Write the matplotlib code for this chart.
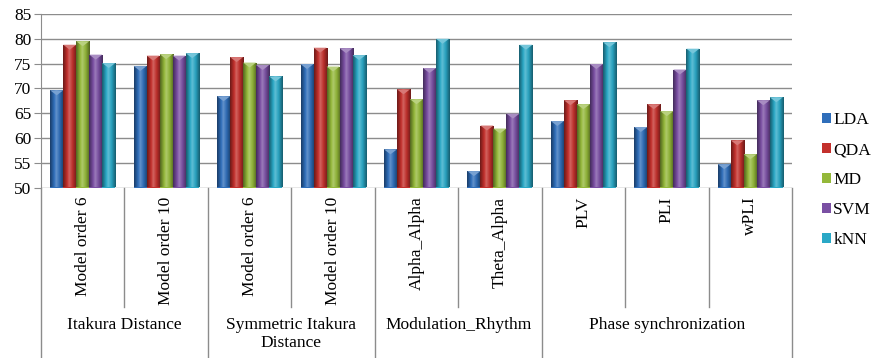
import numpy as np
import matplotlib
matplotlib.use("Agg")
import matplotlib.pyplot as plt
from matplotlib.colors import LinearSegmentedColormap, to_rgb
from matplotlib.patches import Patch, Polygon
import matplotlib.transforms as mtransforms

plt.rcParams['font.family'] = ['Liberation Serif', 'DejaVu Serif']

subcategories = ["Model order 6", "Model order 10", "Model order 6", "Model order 10",
                 "Alpha_Alpha", "Theta_Alpha", "PLV", "PLI", "wPLI"]
groups = ["Itakura Distance", "Symmetric Itakura\nDistance", "Modulation_Rhythm",
          "Phase synchronization"]
group_sizes = [2, 2, 2, 3]
series_names = ["LDA", "QDA", "MD", "SVM", "kNN"]
LDA = [69.6, 74.5, 68.4, 74.9, 57.7, 53.3, 63.4, 62.2, 54.7]
QDA = [78.8, 76.6, 76.3, 78.2, 69.8, 62.5, 67.6, 66.8, 59.5]
MD = [79.5, 76.9, 75.2, 74.4, 67.8, 61.9, 66.8, 65.4, 56.7]
SVM = [76.8, 76.6, 74.7, 78.1, 74.1, 64.9, 74.9, 73.8, 67.6]
kNN = [75.1, 77.1, 72.4, 76.7, 80.0, 78.8, 79.3, 78.0, 68.2]
yticks = [50, 55, 60, 65, 70, 75, 80, 85]

series = [LDA, QDA, MD, SVM, kNN]
colors = ["#2F6EBA", "#C3302C", "#94B83A", "#7A4FA3", "#2AA8C6"]

fig = plt.figure(figsize=(8.73, 3.58), dpi=100)
ax = fig.add_axes([41/873, 1-187.5/358, (792-41)/873, (187.5-14)/358])
n = len(subcategories)
x = np.arange(n)
bw = 0.156
ymin, ymax = 50, 85
ax.set_xlim(-0.5, n-0.5)
ax.set_ylim(ymin, ymax)

def shade(c, f):
    r = np.array(to_rgb(c))
    if f < 1:
        return tuple(r * f)
    return tuple(r + (1 - r) * (f - 1))

grad = np.linspace(0, 1, 64).reshape(1, -1)
for i, (vals, c) in enumerate(zip(series, colors)):
    offs = (i - 2) * bw
    bars = ax.bar(x + offs, np.array(vals) - ymin, bw, bottom=ymin, color=c,
                  edgecolor='none', zorder=3)
    cmap = LinearSegmentedColormap.from_list(
        "c%d" % i, [(0, shade(c, 0.55)), (0.3, shade(c, 1.0)), (0.45, shade(c, 1.25)),
                    (0.7, shade(c, 0.95)), (1, shade(c, 0.55))])
    for p, v in zip(bars.patches, vals):
        x0 = p.get_x(); x1 = x0 + p.get_width()
        im = ax.imshow(grad, extent=[x0, x1, ymin, v], aspect='auto', cmap=cmap,
                       zorder=4, interpolation='bilinear')
        im.set_clip_path(p)
        cap = Polygon([[x0, v], [x1, v], [(x0 + x1) / 2, v - 1.0]], closed=True,
                      facecolor=shade(c, 1.35), edgecolor='none', zorder=5)
        ax.add_patch(cap)
ax.set_xlim(-0.5, n-0.5)
ax.set_ylim(ymin, ymax)

FS = 12.5
ax.set_yticks(yticks)
ax.yaxis.grid(True, color='#8c8c8c', linewidth=1.0, zorder=0)
ax.set_axisbelow(True)
for s in ['top', 'right', 'bottom']:
    ax.spines[s].set_visible(False)
ax.spines['left'].set_color('#8c8c8c')
ax.tick_params(axis='y', length=5, color='#8c8c8c', labelsize=12.5, pad=2)
ax.set_xticks([])

trans = mtransforms.blended_transform_factory(ax.transData, ax.transAxes)
px = 1.0 / 173.5
for k in range(n):
    ax.text(x[k], -9 * px, subcategories[k], rotation=90, ha='center', va='top',
            fontsize=FS, transform=trans, clip_on=False)
# separators
bounds = np.cumsum([0] + group_sizes)
for b in range(n + 1):
    xb = b - 0.5
    y_end = -(358 - 187.5) * px if b in bounds else -(307 - 187.5) * px
    ax.plot([xb, xb], [0, y_end], color='#8c8c8c', linewidth=1.0,
            transform=trans, clip_on=False)
for g, name in enumerate(groups):
    xc = (bounds[g] + bounds[g + 1] - 1) / 2
    ax.text(xc, -(317 - 187.5) * px, name, ha='center', va='top', fontsize=FS,
            transform=trans, clip_on=False, linespacing=1.2)

handles = [Patch(facecolor=c, edgecolor='none') for c in colors]
leg = fig.legend(handles, series_names, loc='center left',
                 bbox_to_anchor=(822/873, 1-180/358), frameon=False, fontsize=12.5,
                 handlelength=0.5, handleheight=0.5, handletextpad=0.15,
                 labelspacing=0.8, borderaxespad=0, borderpad=0)

fig.savefig("out.png", dpi=100)
